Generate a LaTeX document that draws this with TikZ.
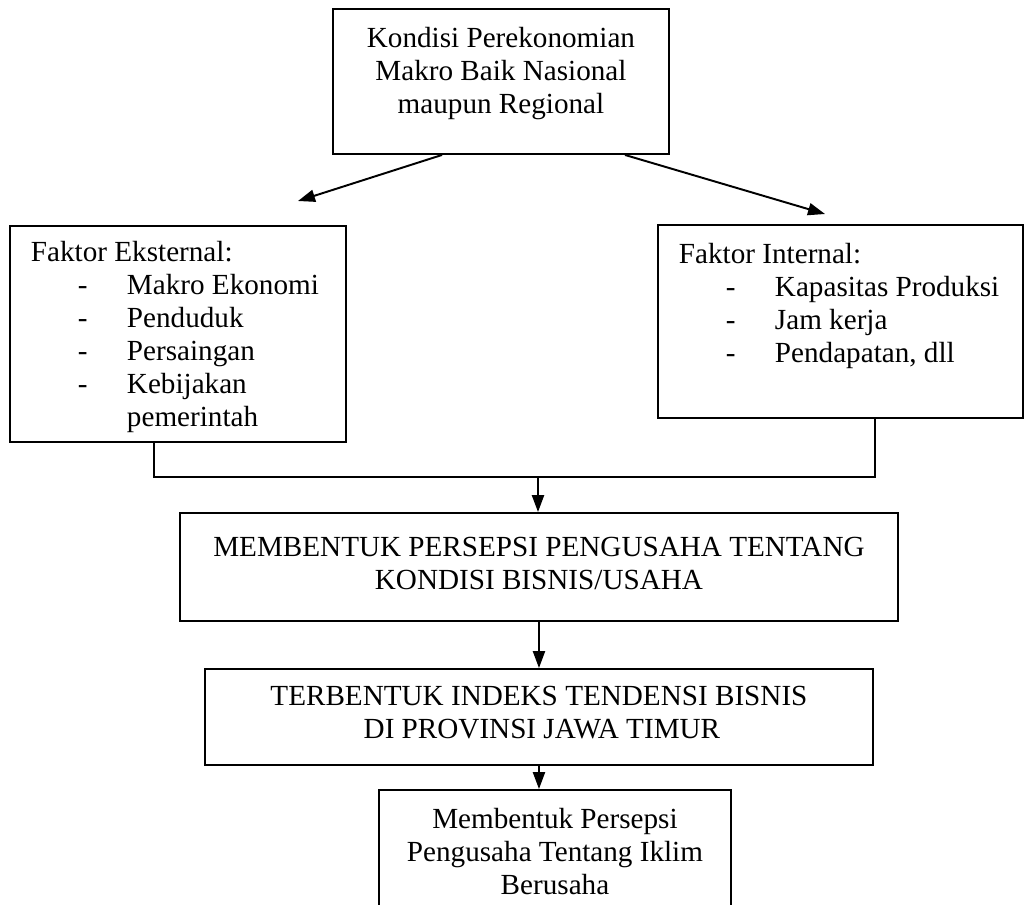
\documentclass[tikz,border=0pt]{standalone}
\usepackage{fontspec}
\setmainfont{Liberation Serif}
\usetikzlibrary{arrows.meta,calc}
\newlength{\px}\setlength{\px}{0.4115pt}
% box content: width, height, top pad (all in px), text
\newcommand{\boxtext}[4]{\parbox[c][#2\px][t]{#1\px}{\vspace*{#3\px}#4}}
\newcommand{\dashline}[1]{\hspace*{68\px}\makebox[49\px][l]{-}#1}
\tikzset{
  box/.style={draw, line width=0.8pt, inner sep=0pt, anchor=north west,
    font=\fontsize{12}{13.6}\selectfont},
  arrow/.style={line width=0.8pt, -{Triangle[length=7pt,width=5pt]}},
  link/.style={line width=0.8pt},
}
\begin{document}
\begin{tikzpicture}[x=0.4115pt, y=-0.4115pt]
  \clip (0,0) rectangle (1032,904);
  \node[box] (A) at (332,8) {\boxtext{336}{145}{15}{\centering\strut Kondisi Perekonomian\\ Makro Baik Nasional\\ maupun Regional}};
  \node[box] (B) at (9,225) {\boxtext{336}{216}{12}{\hspace*{21\px}\strut Faktor Eksternal:\\ \dashline{Makro Ekonomi}\\ \dashline{Penduduk}\\ \dashline{Persaingan}\\ \dashline{Kebijakan}\\ \hspace*{117\px}pemerintah}};
  \node[box] (C) at (657,224) {\boxtext{365}{193}{15}{\hspace*{21\px}\strut Faktor Internal:\\ \dashline{Kapasitas Produksi}\\ \dashline{Jam kerja}\\ \dashline{Pendapatan, dll}}};
  \node[box] (D) at (179,512) {\boxtext{718}{108}{20}{\centering\strut MEMBENTUK PERSEPSI PENGUSAHA TENTANG\\ KONDISI BISNIS/USAHA}};
  \node[box] (E) at (204,668) {\boxtext{668}{96}{13}{\centering\strut TERBENTUK INDEKS TENDENSI BISNIS\\ \hspace*{6\px}DI PROVINSI JAWA TIMUR}};
  \node[box] (F) at (378,789) {\boxtext{352}{150}{15}{\centering\strut Membentuk Persepsi\\ Pengusaha Tentang Iklim\\ Berusaha}};
  %
  \coordinate (tipL) at (298,201);
  \coordinate (tipR) at (825,214);
  \coordinate (join) at (538,477);
  \draw[arrow] ($(A.south west)+(110,0)$) -- (tipL);
  \draw[arrow] ($(A.south west)+(293,0)$) -- (tipR);
  \draw[link] ($(B.south west)+(145,0)$) |- (join) -| ($(C.south west)+(218,0)$);
  \draw[arrow] (join) -- (join |- D.north);
  \draw[arrow] (D.south) -- (E.north);
  \draw[arrow] (E.south) -- (E.south |- F.north);
\end{tikzpicture}
\end{document}
